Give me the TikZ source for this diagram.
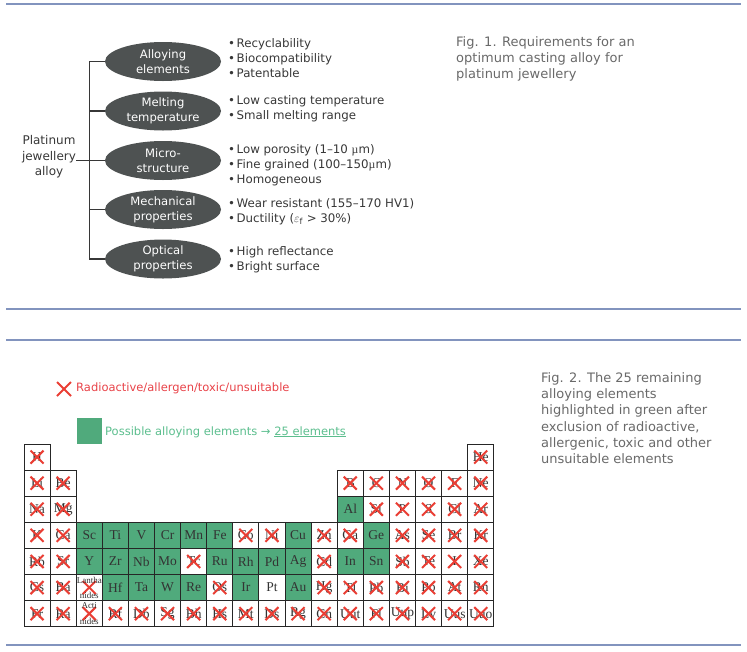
\documentclass[tikz,border=0pt]{standalone}
\usepackage{fontspec}
\setmainfont{DejaVu Sans}
\newfontfamily\elfont{Liberation Serif}
\usetikzlibrary{shapes.geometric,calc}

\definecolor{sepblue}{RGB}{130,148,190}
\definecolor{ellgrey}{RGB}{78,82,82}
\definecolor{txtdark}{RGB}{55,55,55}
\definecolor{capgrey}{RGB}{105,105,105}
\definecolor{xred}{RGB}{234,62,52}
\definecolor{legred}{RGB}{232,66,72}
\definecolor{cellgreen}{RGB}{80,170,124}
\definecolor{leggreen}{RGB}{92,190,142}

\tikzset{
  sepline/.style={draw=sepblue, line width=1.3pt},
  reqell/.style={ellipse, fill=ellgrey, text=white, minimum width=116pt, minimum height=39pt,
    inner sep=0pt, align=center, font=\fontsize{11.6}{15}\selectfont},
  treeline/.style={draw=txtdark, line width=1.3pt},
  bul/.style={anchor=base west, inner sep=0pt, text=txtdark, font=\fontsize{11.8}{14}\selectfont},
  capline/.style={anchor=base west, inner sep=0pt, text=capgrey, font=\fontsize{13}{16}\selectfont},
  elbox/.style={draw=black!85, line width=0.9pt, minimum size=26.1pt, inner sep=0pt, align=center,
    text=black!80, font=\elfont\fontsize{13.5}{14}\selectfont},
  eltype0/.style={fill=white},
  eltype1/.style={fill=cellgreen},
  eltype2/.style={fill=white},
  xstroke/.style={draw=xred, line width=2pt},
  smalltxt/.style={inner sep=0pt, text=black!80, font=\elfont\fontsize{9}{9}\selectfont},
}

\newcommand\elcell[4]{%
  \node[elbox, eltype#4] (e#1-#2) at ({24+(#1-0.5)*26.1},{444+(#2-0.5)*26.1}) {#3};
  \ifnum#4=2
    \draw[xstroke] ($(e#1-#2.center)+(-6.5,-6.5)$) -- ($(e#1-#2.center)+(6.5,6.5)$);
    \draw[xstroke] ($(e#1-#2.center)+(-6.5,6.5)$) -- ($(e#1-#2.center)+(6.5,-6.5)$);
  \fi}

\begin{document}
\begin{tikzpicture}[x=1pt,y=-1pt]
\useasboundingbox (0,0) rectangle (747,651);

% separator rules
\draw[sepline] (6,4) -- (741,4);
\draw[sepline] (6,309) -- (741,309);
\draw[sepline] (6,340) -- (741,340);
\draw[sepline] (6,645) -- (741,645);

% ---------- Fig. 1 ----------
\node[reqell] (alloying) at (163,61.5) {Alloying\\elements};
\node[reqell] (melting) at (163,111) {Melting\\temperature};
\node[reqell] (micro) at (163,160.5) {Micro-\\structure};
\node[reqell] (mech) at (163,209.5) {Mechanical\\properties};
\node[reqell] (optical) at (163,259) {Optical\\properties};

\node[inner sep=0pt, align=center, text=txtdark, font=\fontsize{12}{15.5}\selectfont] (root) at (49,157) {Platinum\\jewellery\\alloy};

\draw[treeline] (alloying.west) -- ++(-15,0) |- (optical.west);
\coordinate (trunk) at ($(alloying.west)+(-15,0)$);
\draw[treeline] (melting.west) -- (melting.west -| trunk);
\draw[treeline] (mech.west) -- (mech.west -| trunk);
\draw[treeline] (root.east |- micro.west) -- (micro.west);

\node[bul] (b1) at (228,47) {•\hspace{1.5pt}Recyclability};
\node[bul] (b2) at (228,62) {•\hspace{1.5pt}Biocompatibility};
\node[bul] (b3) at (228,77) {•\hspace{1.5pt}Patentable};
\node[bul] (b4) at (228,104) {•\hspace{1.5pt}Low casting temperature};
\node[bul] (b5) at (228,119) {•\hspace{1.5pt}Small melting range};
\node[bul] (b6) at (228,153.5) {•\hspace{1.5pt}Low porosity (1–10 {\elfont µ}m)};
\node[bul] (b7) at (228,168.5) {•\hspace{1.5pt}Fine grained (100–150{\elfont µ}m)};
\node[bul] (b8) at (228,183.5) {•\hspace{1.5pt}Homogeneous};
\node[bul] (b9) at (228,207.5) {•\hspace{1.5pt}Wear resistant (155–170 HV1)};
\node[bul] (b10) at (228,222.5) {•\hspace{1.5pt}Ductility (\(\varepsilon_{\mathrm{f}}\) > 30\%)};
\node[bul] (b11) at (228,255) {•\hspace{1.5pt}High reflectance};
\node[bul] (b12) at (228,270) {•\hspace{1.5pt}Bright surface};

\node[capline] (c1a) at (456,46.5) {Fig. 1. Requirements for an};
\node[capline] (c1b) at (456,62.5) {optimum casting alloy for};
\node[capline] (c1c) at (456,78.5) {platinum jewellery};

% ---------- Fig. 2 ----------
\coordinate (legx) at (64,389);
\draw[xstroke] ($(legx)+(-7,-7)$) -- ($(legx)+(7,7)$);
\draw[xstroke] ($(legx)+(-7,7)$) -- ($(legx)+(7,-7)$);
\node[anchor=base west, inner sep=0pt, text=legred, font=\fontsize{11.5}{14}\selectfont] (legxt) at (76,391) {Radioactive/allergen/toxic/unsuitable};
\node[fill=cellgreen, minimum size=25.5pt, inner sep=0pt] (legsq) at (89.5,431) {};
\node[anchor=base west, inner sep=0pt, text=leggreen, font=\fontsize{11.5}{14}\selectfont] (leggt) at (105,435) {Possible alloying elements → \underline{25 elements}};

\node[capline] (c2a) at (541,382.5) {Fig. 2. The 25 remaining};
\node[capline] (c2b) at (541,398.7) {alloying elements};
\node[capline] (c2c) at (541,414.9) {highlighted in green after};
\node[capline] (c2d) at (541,431.1) {exclusion of radioactive,};
\node[capline] (c2e) at (541,447.3) {allergenic, toxic and other};
\node[capline] (c2f) at (541,463.5) {unsuitable elements};

% periodic table
\elcell{1}{1}{H}{2}
\elcell{18}{1}{He}{2}
\elcell{1}{2}{Li}{2}
\elcell{2}{2}{Be}{2}
\elcell{1}{3}{Na}{2}
\elcell{2}{3}{Mg}{2}
\foreach \s/\t [count=\i] in {B/2,C/2,N/2,O/2,F/2,Ne/2} {
  \pgfmathtruncatemacro\c{\i+12}
  \elcell{\c}{2}{\s}{\t}
}
\foreach \s/\t [count=\i] in {Al/1,Si/2,P/2,S/2,Cl/2,Ar/2} {
  \pgfmathtruncatemacro\c{\i+12}
  \elcell{\c}{3}{\s}{\t}
}
\foreach \s/\t [count=\c] in {K/2,Ca/2,Sc/1,Ti/1,V/1,Cr/1,Mn/1,Fe/1,Co/2,Ni/2,Cu/1,Zn/2,Ga/2,Ge/1,As/2,Se/2,Br/2,Kr/2} {
  \elcell{\c}{4}{\s}{\t}
}
\foreach \s/\t [count=\c] in {Rb/2,Sr/2,Y/1,Zr/1,Nb/1,Mo/1,Tc/2,Ru/1,Rh/1,Pd/1,Ag/1,Cd/2,In/1,Sn/1,Sb/2,Te/2,I/2,Xe/2} {
  \elcell{\c}{5}{\s}{\t}
}
\foreach \s/\t [count=\c] in {Cs/2,Ba/2,{}/2,Hf/1,Ta/1,W/1,Re/1,Os/2,Ir/1,Pt/0,Au/1,Hg/2,Tl/2,Pb/2,Bi/2,Po/2,At/2,Rn/2} {
  \elcell{\c}{6}{\s}{\t}
}
\foreach \s/\t [count=\c] in {Fr/2,Ra/2,{}/2,Rf/2,Db/2,Sg/2,Bh/2,Hs/2,Mt/2,Ds/2,Rg/2,Cn/2,Uut/2,Fl/2,Uup/2,Lv/2,Uus/2,Uuo/2} {
  \elcell{\c}{7}{\s}{\t}
}
% two-line labels of the lanthanide and actinide cells
\node[smalltxt, anchor=north] (lan1) at ($(e3-6.north)+(0,2.5)$) {Lantha};
\node[smalltxt, anchor=south] (lan2) at ($(e3-6.south)+(0,-2)$) {nides};
\node[smalltxt, anchor=north] (act1) at ($(e3-7.north)+(0,2.5)$) {Acti};
\node[smalltxt, anchor=south] (act2) at ($(e3-7.south)+(0,-2)$) {nides};
\end{tikzpicture}
\end{document}
